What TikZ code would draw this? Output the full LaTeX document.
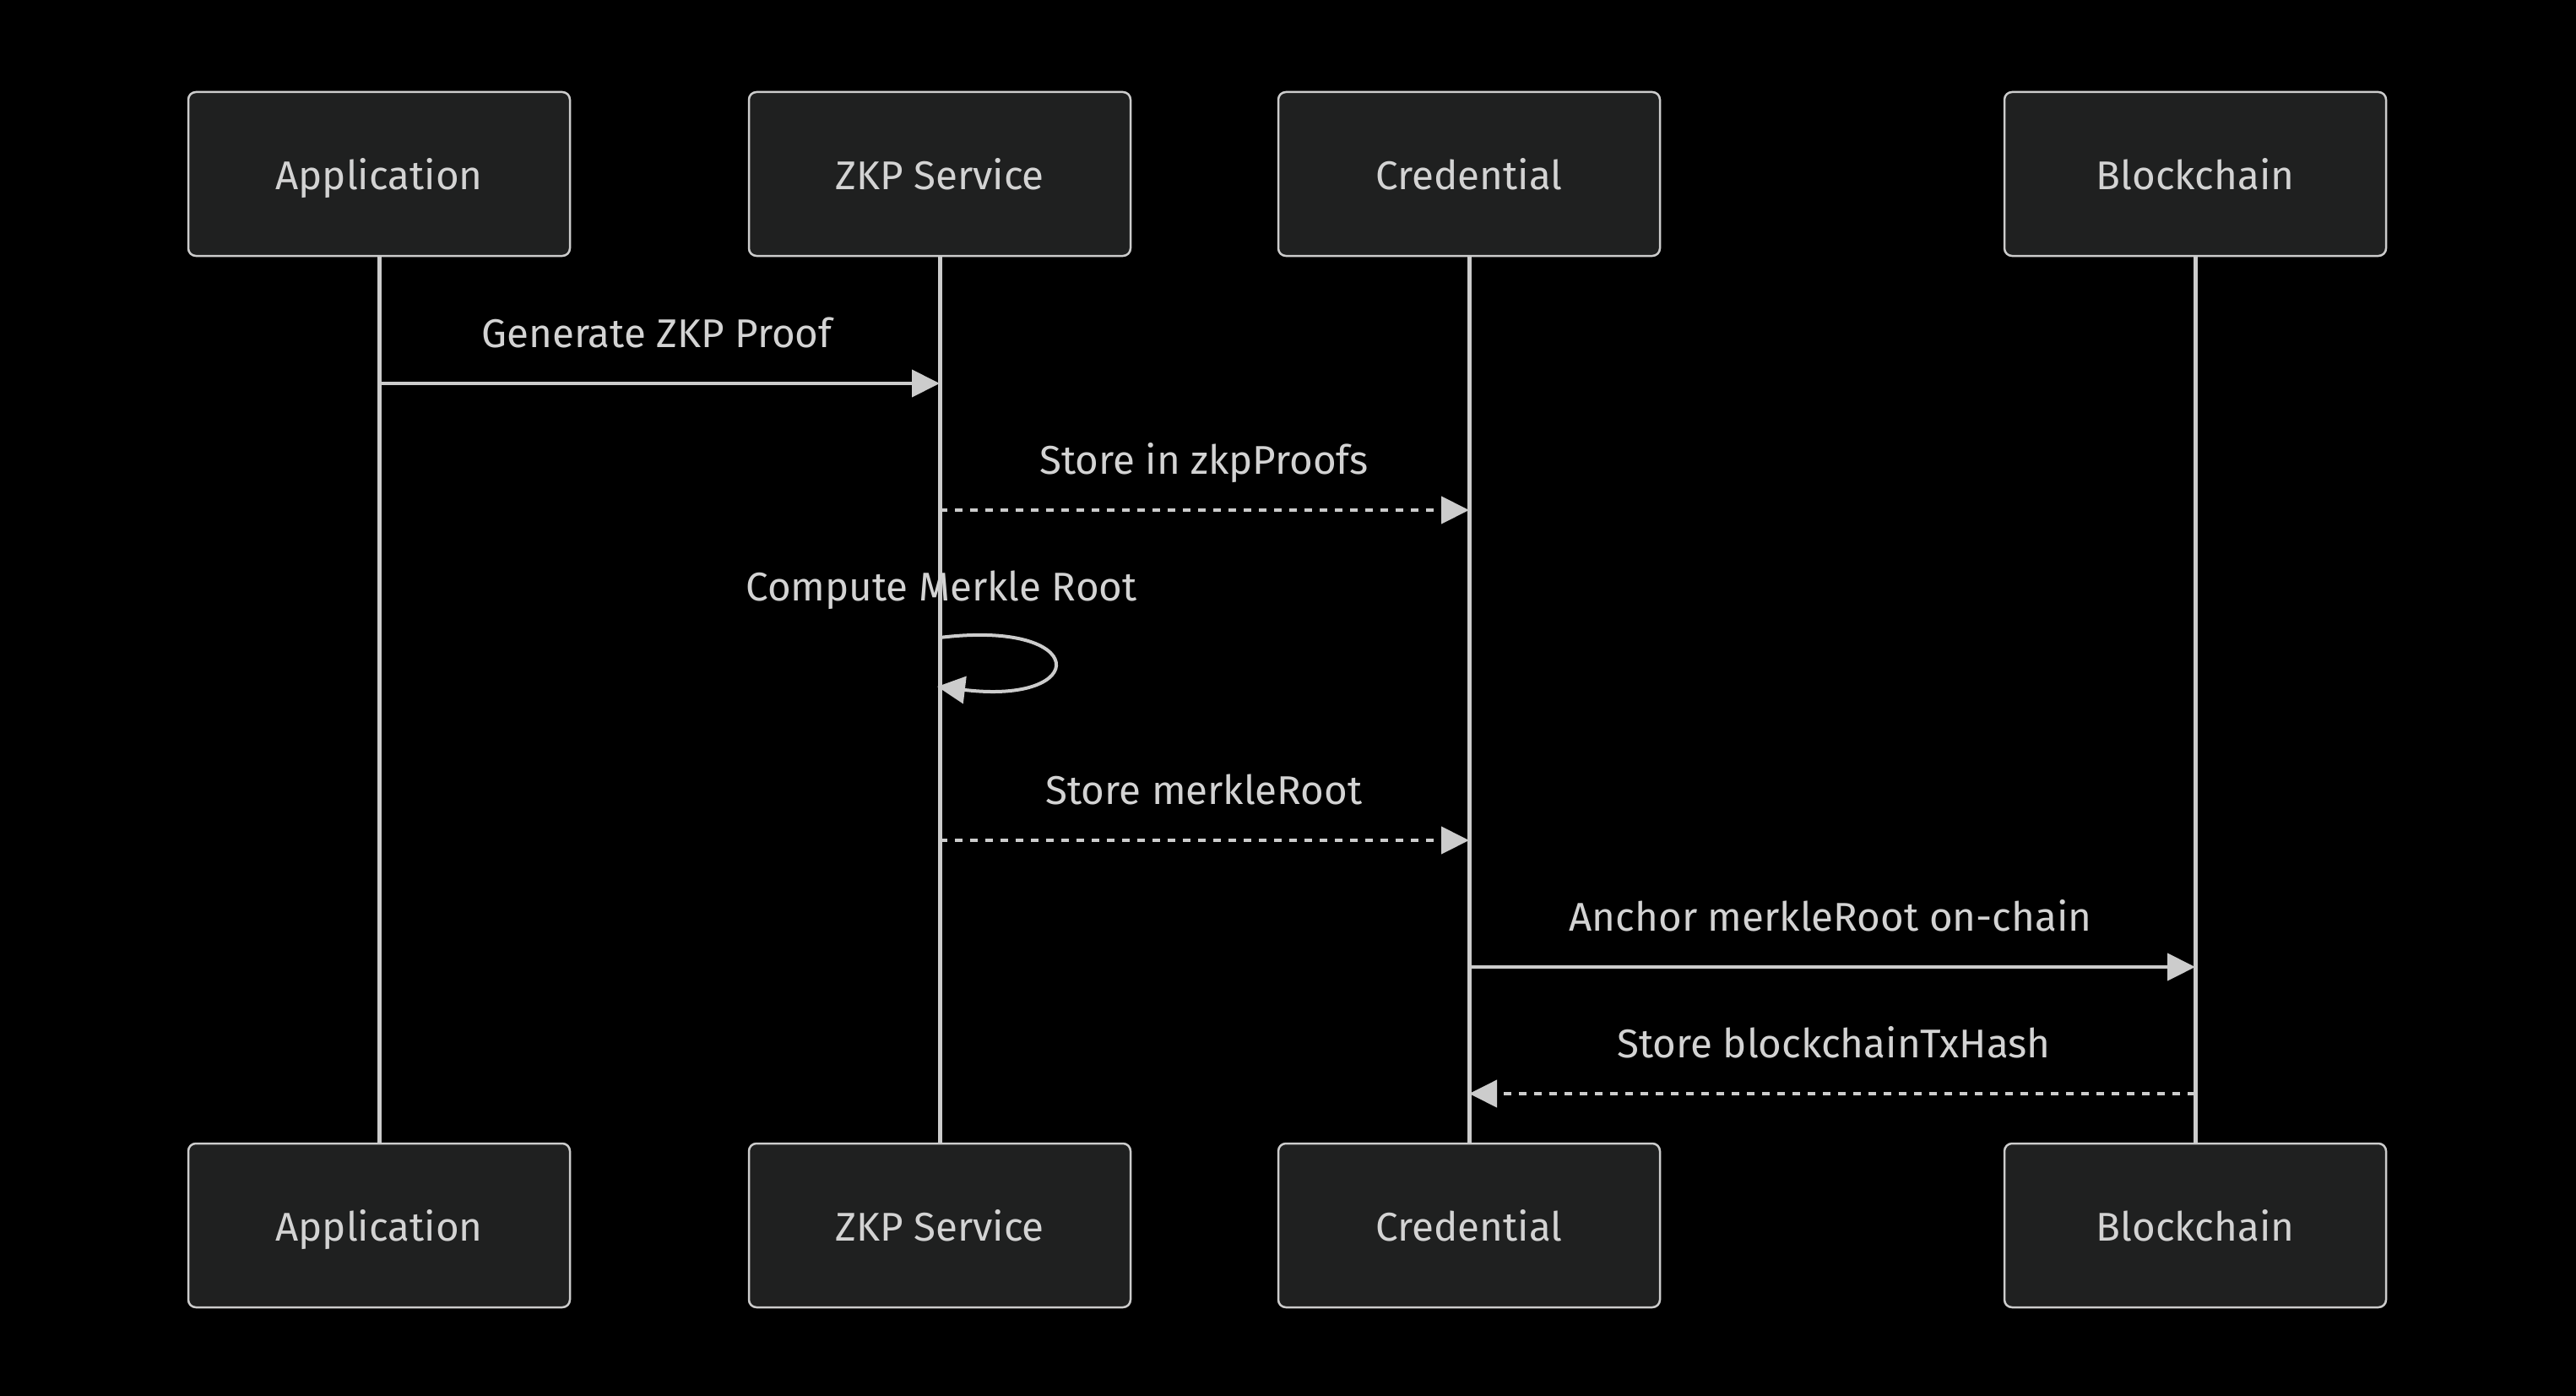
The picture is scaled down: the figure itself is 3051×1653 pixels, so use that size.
\documentclass[tikz,border=0pt]{standalone}
\usepackage{fontspec}
\setmainfont{Fira Sans}
\usetikzlibrary{arrows.meta}
\definecolor{actfill}{HTML}{1F2020}
\definecolor{actline}{HTML}{CCCCCC}
\definecolor{txtcol}{HTML}{D3D3D3}
\begin{document}
\begin{tikzpicture}[x=1pt,y=-1pt,
  actor/.style={draw=actline, fill=actfill, line width=2.5pt, rounded corners=9pt,
    minimum width=452pt, minimum height=194pt, inner sep=0pt, text=txtcol,
    font=\fontsize{47.5}{56}\selectfont, text height=37pt, text depth=0pt},
  lifeline/.style={draw=actline, line width=5pt},
  msg/.style={draw=actline, line width=4pt, -{Triangle[length=33pt,width=32pt]}},
  reply/.style={msg, dash pattern=on 9pt off 9pt},
  lbl/.style={text=txtcol, anchor=base, inner sep=0pt, font=\fontsize{47.5}{56}\selectfont}]
\fill[black] (0,0) rectangle (3051,1653);
\useasboundingbox (0,0) rectangle (3051,1653);
% top actors (positions)
\coordinate (pA) at (449,206);
\coordinate (pZ) at (1113,206);
\coordinate (pC) at (1740,206);
\coordinate (pB) at (2600,206);
\coordinate (qA) at (449,1451);
\coordinate (qZ) at (1113,1451);
\coordinate (qC) at (1740,1451);
\coordinate (qB) at (2600,1451);
% lifelines
\draw[lifeline] (pA) -- (qA);
\draw[lifeline] (pZ) -- (qZ);
\draw[lifeline] (pC) -- (qC);
\draw[lifeline] (pB) -- (qB);
% actor boxes
\node[actor] (appT) at (pA) {Application};
\node[actor] (zkpT) at (pZ) {ZKP Service};
\node[actor] (credT) at (pC) {Credential};
\node[actor] (bcT) at (pB) {Blockchain};
\node[actor] (appB) at (qA) {Application};
\node[actor] (zkpB) at (qZ) {ZKP Service};
\node[actor] (credB) at (qC) {Credential};
\node[actor] (bcB) at (qB) {Blockchain};
% message anchor points
\coordinate (m1s) at (449,454);
\coordinate (m1e) at (1113,454);
\coordinate (m2s) at (1113,604);
\coordinate (m2e) at (1740,604);
\coordinate (m3s) at (1113,755);
\coordinate (m3e) at (1110,813);
\coordinate (m4s) at (1113,995);
\coordinate (m4e) at (1740,995);
\coordinate (m5s) at (1740,1145);
\coordinate (m5e) at (2600,1145);
\coordinate (m6s) at (2600,1295);
\coordinate (m6e) at (1740,1295);
% messages
\draw[msg] (m1s) -- (m1e);
\node[lbl] (l1) at (778,411) {Generate ZKP Proof};
\draw[reply] (m2s) -- (m2e);
\node[lbl] (l2) at (1426,561) {Store in zkpProofs};
\draw[msg] (m3s) .. controls (1292,733) and (1292,835) .. (m3e);
\node[lbl] (l3) at (1115,711) {Compute Merkle Root};
\draw[reply] (m4s) -- (m4e);
\node[lbl] (l4) at (1426,952) {Store merkleRoot};
\draw[msg] (m5s) -- (m5e);
\node[lbl] (l5) at (2168,1102) {Anchor merkleRoot on-chain};
\draw[reply] (m6s) -- (m6e);
\node[lbl] (l6) at (2172,1252) {Store blockchainTxHash};
\end{tikzpicture}
\end{document}
